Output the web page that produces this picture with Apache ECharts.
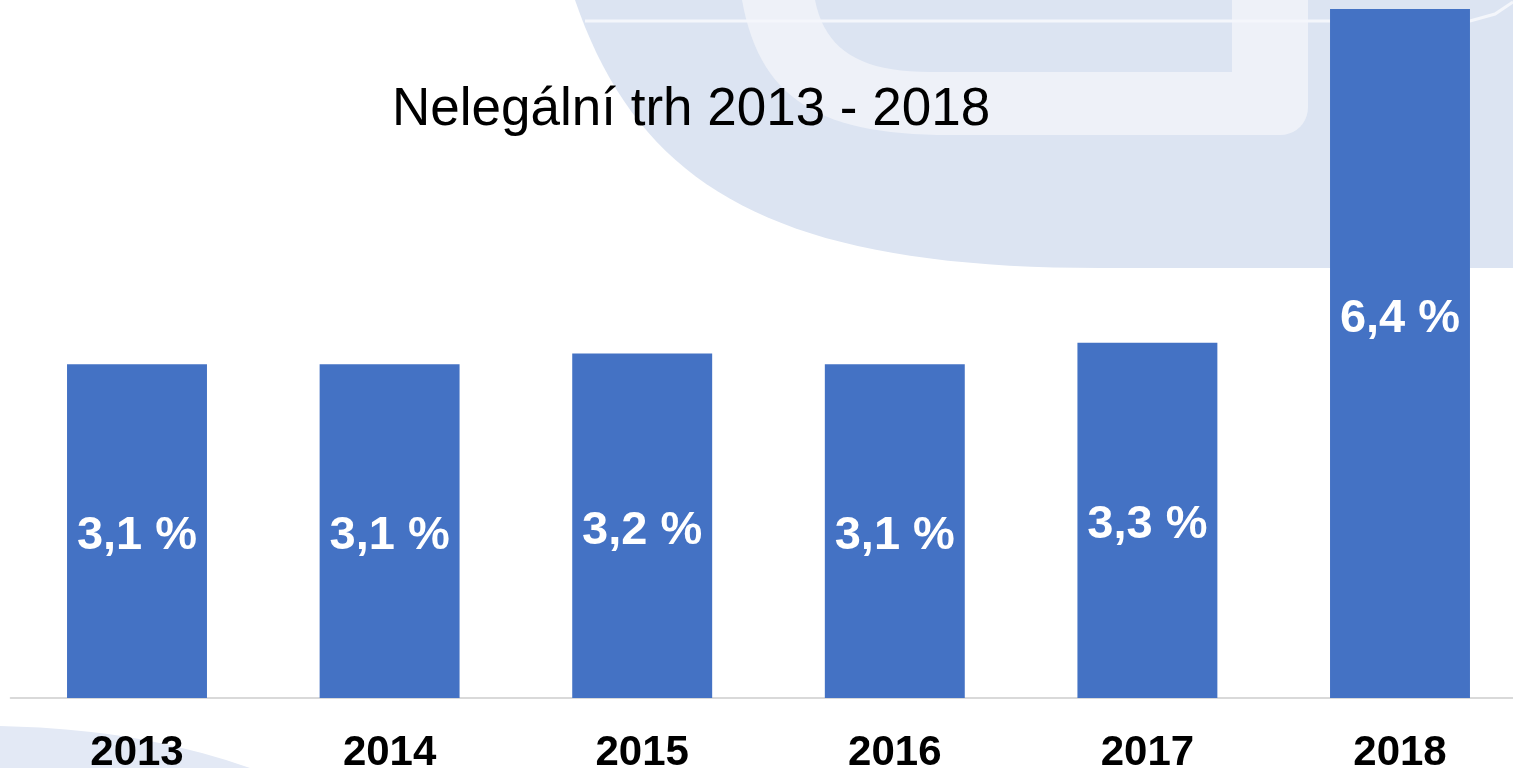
<!DOCTYPE html>
<html>
<head>
<meta charset="utf-8">
<script src="https://cdn.jsdelivr.net/npm/echarts@6/dist/echarts.min.js"></script>
<style>
html,body{margin:0;padding:0;background:#fff;}
#main{width:1513px;height:768px;}
</style>
</head>
<body>
<div id="main"></div>
<script>
const titleText = 'Nelegální trh 2013 - 2018';
const years = ['2013', '2014', '2015', '2016', '2017', '2018'];
const shares = [3.1, 3.1, 3.2, 3.1, 3.3, 6.4];

const chart = echarts.init(document.getElementById('main'));

// decorative watermark helpers (cubic bezier sampling)
function cubic(p0, p1, p2, p3, n) {
  const pts = [];
  for (let i = 0; i <= n; i++) {
    const t = i / n, u = 1 - t;
    pts.push([
      u*u*u*p0[0] + 3*u*u*t*p1[0] + 3*u*t*t*p2[0] + t*t*t*p3[0],
      u*u*u*p0[1] + 3*u*u*t*p1[1] + 3*u*t*t*p2[1] + t*t*t*p3[1]
    ]);
  }
  return pts;
}
const outerPts = cubic([575, 0], [640, 190], [780, 268], [1100, 268], 40).concat([[1513, 268], [1513, 0]]);
const midPts = cubic([742, 0], [760, 100], [820, 135], [950, 135], 30)
  .concat(cubic([1280, 135], [1296, 135], [1308, 123], [1308, 107], 10)).concat([[1308, 0]]);
const innerPts = cubic([815, 0], [825, 50], [860, 72], [930, 72], 20).concat([[1232, 72], [1232, 0]]);
const cornerPts = cubic([0, 726], [90, 728], [170, 740], [250, 768], 20).concat([[0, 768]]);

const barData = shares.map((v, i) => ({
  value: v,
  label: { offset: i === shares.length - 1 ? [0, -34] : [0, 5] }
}));

chart.setOption({
  backgroundColor: '#ffffff',
  animation: false,
  title: {
    text: titleText,
    left: 392,
    top: 84,
    padding: 0,
    textStyle: { fontFamily: 'Liberation Sans, Arial, sans-serif', fontSize: 53, fontWeight: 'normal', color: '#000000' }
  },
  graphic: [
    { type: 'polygon', z: -10, silent: true, shape: { points: outerPts }, style: { fill: '#dce4f2' } },
    { type: 'polygon', z: -9, silent: true, shape: { points: midPts }, style: { fill: '#eef1f8' } },
    { type: 'polygon', z: -8, silent: true, shape: { points: innerPts }, style: { fill: '#dce4f2' } },
    { type: 'polyline', z: -7, silent: true,
      shape: { points: [[585, 21], [1470, 21], [1495, 14], [1513, 2]] },
      style: { fill: null, stroke: '#f4f6fb', lineWidth: 3 } },
    { type: 'polygon', z: -10, silent: true, shape: { points: cornerPts }, style: { fill: '#e3e9f5' } }
  ],
  grid: { left: 10.7, width: 1515.6, top: 9, height: 689, containLabel: false, outerBoundsMode: 'none' },
  xAxis: {
    type: 'category',
    data: years,
    axisLine: { show: true, lineStyle: { color: '#d9d9d9', width: 2 } },
    axisTick: { show: false },
    axisLabel: {
      margin: 34,
      fontFamily: 'Liberation Sans, Arial, sans-serif',
      fontSize: 42,
      lineHeight: 42,
      fontWeight: 'bold',
      color: '#000000'
    }
  },
  yAxis: {
    type: 'value',
    min: 0,
    max: 6.4,
    show: false,
    splitLine: { show: false }
  },
  series: [{
    type: 'bar',
    data: barData,
    barWidth: '55.4%',
    itemStyle: { color: '#4472c4' },
    label: {
      show: true,
      position: 'inside',
      formatter: p => String(p.value).replace('.', ',') + ' %',
      fontFamily: 'Liberation Sans, Arial, sans-serif',
      fontSize: 47,
      fontWeight: 'bold',
      color: '#ffffff'
    }
  }]
});
</script>
</body>
</html>
